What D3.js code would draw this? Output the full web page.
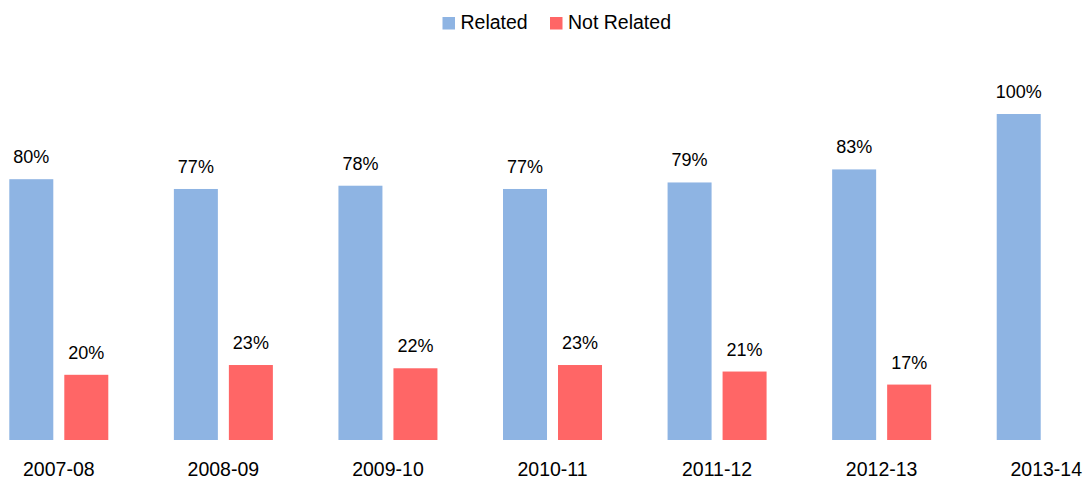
<!DOCTYPE html>
<html>
<head>
<meta charset="utf-8">
<script src="https://cdn.jsdelivr.net/npm/d3@7"></script>
<style>
  body { margin: 0; background: #fff; }
  svg { display: block; font-family: "Liberation Sans", Arial, sans-serif; }
</style>
</head>
<body>
<div id="container"><svg></svg></div>
<script>
'use strict';

var years = ['2007-08', '2008-09', '2009-10', '2010-11', '2011-12', '2012-13', '2013-14'];
var related = [0.80, 0.77, 0.78, 0.77, 0.79, 0.83, 1.00];
var notRelated = [0.20, 0.23, 0.22, 0.23, 0.21, 0.17, null];
var seriesNames = ['Related', 'Not Related'];
var seriesColors = ['#8EB4E3', '#FF6666'];

var width = 1086, height = 482;
var svg = d3.select('svg').attr('width', width).attr('height', height);

var step = 164.57;
var x0 = d3.scaleBand().domain(years)
  .range([9.3, 9.3 + 6 * step + 99])
  .paddingInner((step - 99) / step).paddingOuter(0);
var x1 = d3.scaleBand().domain(seriesNames).range([0, x0.bandwidth()])
  .paddingInner(0.2).paddingOuter(0);
var y = d3.scaleLinear().domain([0, 1]).range([440, 114]);
var color = d3.scaleOrdinal().domain(seriesNames).range(seriesColors);

var rows = years.map(function (yr, i) {
  return { year: yr, values: [
    { key: 'Related', value: related[i] },
    { key: 'Not Related', value: notRelated[i] }
  ].filter(function (d) { return d.value != null; }) };
});

var groups = svg.append('g').selectAll('g').data(rows).enter().append('g')
  .attr('transform', function (d) { return 'translate(' + x0(d.year) + ',0)'; });

groups.selectAll('rect').data(function (d) { return d.values; }).enter().append('rect')
  .attr('x', function (d) { return x1(d.key); })
  .attr('y', function (d) { return y(d.value); })
  .attr('width', x1.bandwidth())
  .attr('height', function (d) { return y(0) - y(d.value); })
  .attr('fill', function (d) { return color(d.key); });

groups.selectAll('text').data(function (d) { return d.values; }).enter().append('text')
  .attr('x', function (d) { return x1(d.key) + x1.bandwidth() / 2; })
  .attr('y', function (d) { return y(d.value) - 16; })
  .attr('text-anchor', 'middle')
  .attr('font-size', 18)
  .attr('fill', '#000')
  .text(function (d) { return Math.round(d.value * 100) + '%'; });

// category axis
var axis = svg.append('g').attr('transform', 'translate(0,' + y(0) + ')')
  .call(d3.axisBottom(x0).tickSize(0).tickSizeOuter(0));
axis.select('.domain').remove();
axis.selectAll('text')
  .attr('y', 36).attr('dy', 0)
  .attr('font-size', 19.5)
  .attr('font-family', '"Liberation Sans", Arial, sans-serif')
  .attr('fill', '#000');

// legend
var legendX = [442.5, 550];
var legend = svg.append('g').selectAll('g').data(seriesNames).enter().append('g')
  .attr('transform', function (d, i) { return 'translate(' + legendX[i] + ',0)'; });
legend.append('rect')
  .attr('x', 0).attr('y', 17).attr('width', 12.5).attr('height', 12.5)
  .attr('fill', function (d) { return color(d); });
legend.append('text')
  .attr('x', 18).attr('y', 29.3)
  .attr('font-size', 19.5)
  .attr('fill', '#000')
  .text(function (d) { return d; });
</script>
</body>
</html>
